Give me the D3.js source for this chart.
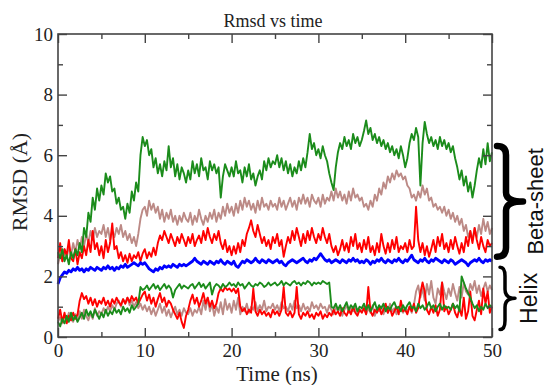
<!DOCTYPE html>
<html>
<head>
<meta charset="utf-8">
<script src="https://cdn.jsdelivr.net/npm/d3@7"></script>
<style>
  body { margin: 0; background: #fff; }
  svg { display: block; }
  .tick text { font-family: "Liberation Serif", "DejaVu Serif", serif; font-size: 19px; fill: #222; }
  .tick line { stroke: #444; stroke-width: 1.4; }
</style>
</head>
<body>
<svg id="chart" width="548" height="385"></svg>
<script>
// sampled every 0.25 ns, 0..50 ns
const step = 0.25;

const xMajor = [0, 10, 20, 30, 40, 50];
const xMinor = [5, 15, 25, 35, 45];
const yMajor = [0, 2, 4, 6, 8, 10];
const yMinor = [1, 3, 5, 7, 9];

const greenBeta = [
  2.8, 2.6, 2.9, 2.5, 2.7, 2.4, 2.8, 2.6, 2.9, 2.7, 3.1, 2.8, 3.6, 3.3, 4.1, 3.8, 4.6, 4.2, 4.9, 4.5,
  5.0, 4.7, 5.4, 5.1, 5.3, 4.8, 4.9, 4.4, 4.6, 4.2, 4.3, 3.9, 4.4, 4.1, 4.8, 4.5, 5.1, 4.8, 6.0, 6.6,
  6.3, 6.5, 6.0, 6.2, 5.6, 5.9, 5.4, 5.7, 5.3, 5.8, 5.5, 6.3, 5.6, 5.9, 5.3, 5.7, 5.2, 5.6, 5.4, 5.1,
  5.5, 5.2, 5.8, 5.4, 5.7, 5.3, 5.9, 5.5, 5.6, 5.2, 5.8, 5.5, 5.7, 5.4, 5.6, 4.6, 5.3, 5.7, 5.5, 5.3,
  5.6, 5.3, 5.8, 5.4, 5.5, 5.1, 5.6, 5.3, 5.7, 5.2, 5.4, 5.0, 5.3, 5.5, 5.2, 5.8, 5.5, 5.9, 5.6, 5.8,
  5.7, 6.0, 5.6, 5.9, 5.5, 5.8, 5.4, 5.7, 5.3, 5.6, 5.4, 5.8, 5.5, 5.9, 5.6, 6.1, 6.7, 6.2, 6.4, 6.0,
  6.2, 5.9, 6.3, 6.0, 5.8, 5.4, 5.1, 4.85, 5.6, 6.1, 6.4, 6.2, 6.6, 6.3, 6.5, 6.2, 6.7, 6.4, 6.6, 6.3,
  6.5, 6.8, 7.15, 6.7, 6.9, 6.5, 6.7, 6.4, 6.6, 6.3, 6.5, 6.2, 6.4, 6.1, 6.3, 6.0, 6.2, 5.9, 6.3, 6.0,
  5.6, 5.9, 6.4, 6.7, 6.5, 6.9, 6.6, 5.0, 6.4, 7.1, 6.7, 6.4, 6.6, 6.3, 6.5, 6.2, 6.6, 6.3, 6.5, 6.2,
  6.4, 6.1, 6.3, 5.9, 5.6, 5.2, 5.5, 5.0, 5.3, 4.8, 5.1, 4.6, 5.0, 5.5, 5.9, 5.6, 6.2, 5.7, 6.4, 5.8,
  6.1
];

const brownBeta = [
  2.4, 2.7, 2.5, 2.9, 2.6, 3.0, 2.7, 3.1, 2.8, 3.2, 2.9, 3.3, 3.0, 3.4, 3.1, 3.5, 3.2, 3.6, 3.3, 3.5,
  3.4, 3.7, 3.3, 3.6, 3.2, 3.5, 3.3, 3.6, 3.4, 3.7, 3.3, 3.5, 3.2, 3.4, 3.1, 3.3, 3.0, 3.4, 3.9, 4.2,
  4.3, 4.0, 4.5, 4.2, 4.4, 4.1, 4.3, 3.9, 4.2, 3.8, 4.1, 3.9, 4.2, 3.8, 4.0, 3.7, 4.0, 3.8, 4.1, 3.9,
  3.8, 4.1, 3.7, 4.0, 3.8, 4.2, 3.9, 3.7, 4.0, 3.8, 4.1, 3.9, 4.2, 3.8, 4.1, 3.9, 4.3, 4.0, 4.4, 4.1,
  4.3, 4.0, 4.4, 4.1, 4.5, 4.2, 4.6, 4.3, 4.5, 4.2, 4.4, 4.1, 4.5, 4.2, 4.6, 4.3, 4.4, 4.2, 4.5, 4.3,
  4.4, 4.2, 4.6, 4.3, 4.5, 4.2, 4.4, 4.6, 4.3, 4.5, 4.2, 4.6, 4.4, 4.7, 4.4, 4.6, 4.3, 4.7, 4.5, 4.4,
  4.6, 4.3, 4.7, 4.4, 4.6, 4.5, 4.8, 4.5, 4.9, 4.6, 4.8, 4.5, 4.7, 4.4, 4.8, 4.5, 4.9, 4.6, 4.7, 4.5,
  4.6, 4.3, 4.4, 4.2, 4.5, 4.3, 4.7, 4.5, 4.9, 4.7, 5.1, 4.9, 5.3, 5.1, 5.4, 5.2, 5.5, 5.3, 5.4, 5.2,
  5.3, 5.0, 4.9, 4.6, 4.7, 4.5, 4.8, 4.6, 5.0, 4.7, 4.9, 4.5, 4.6, 4.3, 4.4, 4.2, 4.3, 4.1, 4.3, 4.0,
  4.2, 3.9, 4.1, 3.8, 4.0, 3.7, 3.9, 3.5, 3.7, 3.3, 3.5, 3.2, 3.6, 3.3, 3.7, 3.4, 3.9, 3.5, 3.8, 3.4,
  3.6
];

const redBeta = [
  2.6, 3.1, 2.5, 2.9, 2.7, 3.2, 2.6, 2.5, 2.9, 2.4, 2.8, 2.6, 3.0, 2.7, 3.2, 2.8, 3.5, 2.9, 3.1, 2.7,
  3.0, 2.6, 3.2, 2.8, 3.1, 3.75, 2.9, 3.0, 2.6, 2.8, 2.5, 2.7, 2.45, 2.75, 2.5, 2.7, 2.6, 2.8, 2.5, 2.75,
  2.9, 2.6, 2.8, 2.65, 2.95, 2.7, 3.1, 3.35, 3.2, 3.5, 3.3, 3.1, 3.4, 3.2, 3.0, 3.3, 3.1, 3.4, 3.2, 3.0,
  3.3, 3.1, 3.4, 3.0, 3.2, 3.35, 3.1, 3.5, 3.2, 3.6, 3.3, 3.1, 3.4, 3.2, 3.5, 3.1, 2.9, 3.2, 2.8, 3.0,
  2.7, 3.0, 2.75, 3.1, 2.8, 3.2, 3.0, 3.4, 3.6, 3.85, 3.5, 3.3, 3.7, 3.4, 3.1, 3.3, 3.0, 3.2, 2.9, 3.3,
  3.1, 3.4, 3.0, 3.2, 2.65, 3.0, 3.3, 3.1, 3.5, 3.2, 3.6, 3.3, 3.0, 3.4, 3.1, 3.5, 3.2, 3.6, 3.3, 3.1,
  3.4, 3.2, 3.6, 3.3, 3.1, 3.4, 3.0, 2.8, 3.0, 2.7, 2.9, 3.2, 2.85, 3.1, 2.8, 3.3, 3.0, 3.4, 2.9, 3.1,
  2.8, 3.2, 2.9, 3.3, 2.8, 3.0, 2.7, 3.1, 2.8, 3.4, 3.0, 2.75, 3.1, 2.8, 3.2, 2.9, 3.3, 2.8, 3.0, 2.9,
  3.1, 2.8, 3.2, 2.9, 3.0, 4.3, 3.2, 2.8, 3.1, 2.7, 3.0, 2.65, 2.9, 3.2, 2.8, 3.3, 3.0, 3.4, 2.9, 3.1,
  2.8, 3.2, 2.9, 3.3, 3.0, 2.75, 3.1, 2.8, 3.3, 3.0, 3.5, 3.1, 3.6, 3.2, 2.9, 3.3, 3.0, 2.8, 3.2, 3.0,
  3.1
];

const blueLine = [
  1.75, 1.95, 2.05, 2.15, 2.1, 2.2, 2.15, 2.25, 2.2, 2.3, 2.2, 2.25, 2.15, 2.25, 2.2, 2.3, 2.25, 2.2, 2.3, 2.25,
  2.2, 2.3, 2.25, 2.35, 2.25, 2.3, 2.2, 2.3, 2.25, 2.35, 2.3, 2.4, 2.3, 2.35, 2.4, 2.45, 2.4, 2.35, 2.45, 2.4,
  2.45, 2.35, 2.25, 2.2, 2.15, 2.25, 2.2, 2.3, 2.25, 2.35, 2.3, 2.35, 2.3, 2.4, 2.35, 2.3, 2.4, 2.35, 2.4, 2.35,
  2.4, 2.45, 2.5, 2.6, 2.5, 2.45, 2.4, 2.5, 2.45, 2.4, 2.5, 2.45, 2.4, 2.5, 2.45, 2.55, 2.45, 2.4, 2.5, 2.45,
  2.4, 2.5, 2.35, 2.3, 2.4, 2.5, 2.45, 2.55, 2.5, 2.45, 2.5, 2.6, 2.5, 2.45, 2.55, 2.5, 2.45, 2.55, 2.5, 2.45,
  2.5, 2.55, 2.45, 2.5, 2.4, 2.35, 2.45, 2.5, 2.55, 2.5, 2.45, 2.5, 2.55, 2.6, 2.5, 2.45, 2.55, 2.5, 2.6, 2.55,
  2.65, 2.75, 2.65, 2.55, 2.5, 2.55, 2.45, 2.5, 2.55, 2.5, 2.45, 2.55, 2.5, 2.45, 2.55, 2.5, 2.6, 2.5, 2.55, 2.45,
  2.5, 2.45, 2.55, 2.5, 2.4, 2.5, 2.45, 2.55, 2.5, 2.6, 2.5, 2.45, 2.55, 2.5, 2.45, 2.55, 2.5, 2.6, 2.5, 2.45,
  2.55, 2.5, 2.6, 2.7, 2.55, 2.5, 2.45, 2.55, 2.5, 2.6, 2.5, 2.45, 2.55, 2.5, 2.6, 2.55, 2.5, 2.45, 2.55, 2.5,
  2.45, 2.55, 2.5, 2.4, 2.45, 2.5, 2.55, 2.5, 2.45, 2.35, 2.45, 2.5, 2.55, 2.5, 2.6, 2.5, 2.45, 2.55, 2.5, 2.55,
  2.5
];

const brownHelix = [
  0.5, 0.65, 0.45, 0.7, 0.55, 0.8, 0.6, 0.5, 0.75, 0.55, 0.85, 0.6, 0.9, 0.7, 0.55, 0.8, 0.6, 0.95, 0.7, 0.85,
  0.75, 0.95, 0.8, 1.0, 0.85, 1.05, 0.9, 1.1, 1.2, 1.0, 1.25, 1.1, 1.3, 1.05, 1.2, 1.0, 1.15, 0.95, 1.1, 0.9,
  1.05, 0.85, 1.0, 0.75, 0.95, 0.7, 0.9, 1.1, 0.8, 1.0, 0.7, 0.9, 0.65, 0.85, 1.0, 0.75, 0.9, 0.7, 0.95, 0.8,
  0.75, 0.95, 0.7, 0.9, 0.8, 1.0, 0.75, 1.2, 0.9, 1.3, 0.85, 1.1, 0.7, 1.0, 0.8, 1.15, 0.75, 1.25, 0.9, 1.1,
  0.8, 1.2, 0.9, 1.3, 0.75, 1.0, 0.85, 1.1, 0.8, 1.0, 0.9, 1.15, 0.85, 1.05, 0.9, 1.2, 0.85, 1.0, 0.95, 1.1,
  0.9, 1.05, 0.85, 1.15, 0.95, 1.0, 0.85, 1.1, 0.9, 1.2, 0.95, 1.05, 0.85, 1.1, 0.9, 1.0, 0.85, 1.15, 0.95, 1.05,
  0.9, 1.1, 0.95, 1.0, 0.8, 1.05, 0.9, 0.75, 1.0, 0.85, 0.95, 0.7, 0.9, 1.05, 0.8, 0.95, 0.85, 1.0, 0.75, 0.9,
  0.85, 1.0, 0.75, 0.95, 0.8, 1.05, 0.7, 0.9, 0.85, 1.0, 0.75, 0.95, 0.8, 1.1, 0.85, 0.95, 0.75, 1.0, 0.9, 0.8,
  0.95, 0.85, 1.0, 0.8, 1.05, 1.5, 1.7, 1.3, 1.6, 1.2, 1.75, 1.4, 1.85, 1.3, 1.1, 1.6, 1.4, 1.8, 1.5, 1.25,
  1.6, 1.35, 1.75, 1.45, 1.2, 1.65, 1.3, 1.8, 1.5, 1.4, 1.75, 1.55, 1.85, 1.45, 1.7, 1.35, 1.6, 1.8, 1.5, 1.7,
  1.55
];

const redHelix = [
  0.6, 0.9, 0.5, 0.8, 0.45, 0.7, 0.55, 0.8, 0.6, 0.75, 1.2, 1.45, 1.25, 1.35, 1.1, 1.3, 1.05, 1.25, 1.0, 1.2,
  1.1, 1.3, 1.05, 1.2, 1.0, 1.25, 1.1, 1.3, 1.15, 1.05, 1.25, 1.1, 1.3, 1.15, 1.35, 1.2, 1.3, 1.1, 1.25, 1.4,
  1.5, 1.2, 1.4, 1.1, 1.3, 1.0, 1.25, 1.45, 1.15, 1.3, 1.0, 1.2, 1.1, 0.9, 0.75, 0.6, 0.8, 0.5, 0.3, 0.7,
  0.9, 1.2, 1.4, 1.1, 1.3, 1.0, 1.2, 1.45, 1.1, 1.3, 1.0, 1.2, 0.95, 1.1, 1.45, 1.6, 1.5, 1.65, 1.55, 1.6,
  1.5, 1.6, 1.45, 1.6, 1.0, 0.85, 0.95, 0.75, 0.9, 0.8, 1.6, 0.85, 0.7, 0.9, 0.75, 0.85, 0.7, 0.8, 0.65, 0.9,
  0.75, 0.85, 0.7, 0.9, 1.65, 0.8, 0.7, 0.85, 0.65, 0.8, 1.65, 0.75, 0.6, 0.8, 0.7, 0.85, 0.65, 0.75, 0.6, 0.8,
  0.7, 0.85, 0.6, 0.75, 0.65, 0.8, 0.7, 0.9, 0.75, 0.85, 0.7, 0.95, 0.8, 0.7, 0.9, 0.75, 1.0, 0.8, 0.7, 0.9,
  0.8, 0.95, 0.75, 1.65, 0.85, 0.7, 0.9, 0.8, 1.0, 0.75, 0.9, 1.1, 0.8, 0.95, 0.7, 0.85, 1.0, 0.75, 1.2, 0.85,
  0.9, 0.75, 1.0, 0.85, 1.1, 0.8, 0.95, 1.45, 1.8, 1.5, 0.9, 0.75, 1.0, 0.8, 1.05, 0.7, 0.9, 1.8, 0.85, 1.0,
  0.75, 0.9, 1.1, 0.8, 0.65, 0.95, 0.7, 1.3, 0.6, 0.85, 1.5, 0.7, 0.55, 0.9, 1.2, 0.75, 1.6, 1.1, 1.5, 0.8,
  1.0
];

const greenHelix = [
  0.5, 0.35, 0.6, 0.45, 0.7, 0.5, 0.8, 0.55, 0.7, 0.5, 0.65, 0.8, 0.6, 0.9, 0.7, 0.85, 0.65, 0.9, 0.75, 0.6,
  0.8, 0.65, 0.9, 0.7, 0.85, 0.75, 0.95, 0.8, 0.9, 0.75, 1.0, 0.85, 0.95, 0.8, 1.05, 0.9, 1.0, 1.1, 1.65, 1.55,
  1.6, 1.7, 1.55, 1.65, 1.75, 1.6, 1.7, 1.55, 1.65, 1.75, 1.6, 1.7, 1.6, 1.3, 1.55, 1.65, 1.75, 1.6, 1.7, 1.65,
  1.6, 1.7, 1.75, 1.6, 1.7, 1.8, 1.65, 1.75, 1.6, 1.7, 1.8, 1.4, 1.65, 1.75, 1.7, 1.6, 1.75, 1.65, 1.7, 1.8,
  1.7, 1.75, 1.65, 1.8, 1.7, 1.75, 1.6, 1.7, 1.8, 1.7, 1.65, 1.75, 1.7, 1.8, 1.75, 1.65, 1.7, 1.8, 1.7, 1.75,
  1.8, 1.7, 1.75, 1.85, 1.7, 1.8, 1.75, 1.7, 1.8, 1.85, 1.75, 1.8, 1.7, 1.8, 1.75, 1.85, 1.8, 1.7, 1.8, 1.75,
  1.8, 1.75, 1.85, 1.8, 1.75, 1.8, 1.0, 0.95, 1.1, 0.9, 1.05, 0.85, 1.0, 1.15, 0.9, 1.05, 0.95, 1.1, 0.85, 1.0,
  0.95, 1.1, 0.9, 1.05, 0.85, 1.0, 1.15, 0.9, 1.05, 0.95, 1.1, 0.85, 1.0, 0.9, 1.05, 1.15, 0.95, 1.0, 0.85, 1.05,
  0.9, 1.05, 1.15, 0.95, 1.0, 0.85, 1.1, 0.95, 1.05, 0.9, 1.0, 1.15, 0.95, 1.05, 0.85, 1.0, 1.1, 0.9, 1.05, 0.95,
  1.0, 0.9, 1.1, 0.95, 1.05, 0.85, 2.0, 1.8, 1.6, 1.45, 1.3, 1.1, 0.95, 1.05, 0.85, 1.0, 0.9, 1.1, 0.95, 1.05,
  1.0
];

const series = [
  { values: brownBeta, color: "#bc8a86", width: 1.9 },
  { values: redBeta, color: "#ff0000", width: 1.9 },
  { values: greenBeta, color: "#1b8c1b", width: 1.9 },
  { values: blueLine, color: "#0000ff", width: 2.8 },
  { values: brownHelix, color: "#bc8a86", width: 1.9 },
  { values: redHelix, color: "#ff0000", width: 1.9 },
  { values: greenHelix, color: "#1b8c1b", width: 1.9 }
];

const groups = [
  { label: "Beta-sheet", top: 6.3, bottom: 2.65, x0: 497, xm: 506, xt: 523, stroke: 6.5, textX: 543, size: 22 },
  { label: "Helix", top: 2.3, bottom: 0.25, x0: 500, xm: 505, xt: 515, stroke: 3.5, textX: 537, size: 23 }
];

const svg = d3.select("#chart");
const plotLeft = 58, plotRight = 492, plotTop = 34, plotBottom = 337;

const x = d3.scaleLinear().domain([0, 50]).range([plotLeft, plotRight]);
const y = d3.scaleLinear().domain([0, 10]).range([plotBottom, plotTop]);

// lines
const line = d3.line()
  .x((d, i) => x(i * step))
  .y(d => y(d));

svg.append("g")
  .selectAll("path")
  .data(series)
  .enter()
  .append("path")
  .attr("d", d => line(d.values))
  .attr("fill", "none")
  .attr("stroke", d => d.color)
  .attr("stroke-width", d => d.width)
  .attr("stroke-linejoin", "round");

// ticks, pointing inward on all four sides
function ticks(axis, values, size, label) {
  return axis.tickValues(values).tickSize(-size).tickPadding(label ? 7 : 0)
    .tickFormat(label ? d3.format("d") : "");
}

svg.append("g").attr("transform", `translate(0,${plotBottom})`).call(ticks(d3.axisBottom(x), xMajor, 9, true));
svg.append("g").attr("transform", `translate(0,${plotBottom})`).call(ticks(d3.axisBottom(x), xMinor, 5, false));
svg.append("g").attr("transform", `translate(0,${plotTop})`).call(ticks(d3.axisTop(x), xMajor, 9, false));
svg.append("g").attr("transform", `translate(0,${plotTop})`).call(ticks(d3.axisTop(x), xMinor, 5, false));
svg.append("g").attr("transform", `translate(${plotLeft},0)`).call(ticks(d3.axisLeft(y), yMajor, 9, true).tickPadding(5));
svg.append("g").attr("transform", `translate(${plotLeft},0)`).call(ticks(d3.axisLeft(y), yMinor, 5, false));
svg.append("g").attr("transform", `translate(${plotRight},0)`).call(ticks(d3.axisRight(y), yMajor, 9, false));
svg.append("g").attr("transform", `translate(${plotRight},0)`).call(ticks(d3.axisRight(y), yMinor, 5, false));
svg.selectAll(".domain").remove();

// frame
svg.append("rect")
  .attr("x", plotLeft).attr("y", plotTop)
  .attr("width", plotRight - plotLeft).attr("height", plotBottom - plotTop)
  .attr("fill", "none").attr("stroke", "#444").attr("stroke-width", 1.6);

// titles
svg.append("text")
  .attr("x", 273).attr("y", 27)
  .attr("text-anchor", "middle")
  .style("font-family", "Liberation Serif, serif").style("font-size", "18px").style("fill", "#222")
  .text("Rmsd vs time");

svg.append("text")
  .attr("x", 277).attr("y", 381)
  .attr("text-anchor", "middle")
  .style("font-family", "Liberation Serif, serif").style("font-size", "21px").style("fill", "#222")
  .text("Time (ns)");

svg.append("text")
  .attr("transform", `translate(27,182) rotate(-90)`)
  .attr("text-anchor", "middle")
  .style("font-family", "Liberation Serif, serif").style("font-size", "22px").style("fill", "#222")
  .text("RMSD (Å)");

// group braces
function brace(g) {
  const y0 = y(g.top), y1 = y(g.bottom), mid = (y0 + y1) / 2, r = 9;
  return `M${g.x0},${y0} Q${g.xm},${y0} ${g.xm},${y0 + r} L${g.xm},${mid - r} ` +
    `Q${g.xm},${mid} ${g.xt},${mid} Q${g.xm},${mid} ${g.xm},${mid + r} ` +
    `L${g.xm},${y1 - r} Q${g.xm},${y1} ${g.x0},${y1}`;
}

const ann = svg.append("g").selectAll("g").data(groups).enter().append("g");
ann.append("path")
  .attr("d", brace)
  .attr("fill", "none")
  .attr("stroke", "#000")
  .attr("stroke-width", d => d.stroke)
  .attr("stroke-linecap", "round")
  .attr("stroke-linejoin", "round");
ann.append("text")
  .attr("transform", d => `translate(${d.textX},${(y(d.top) + y(d.bottom)) / 2}) rotate(-90)`)
  .attr("text-anchor", "middle")
  .style("font-family", "Liberation Sans, Arial, sans-serif").style("font-size", d => d.size + "px").style("fill", "#111")
  .text(d => d.label);
</script>
</body>
</html>
